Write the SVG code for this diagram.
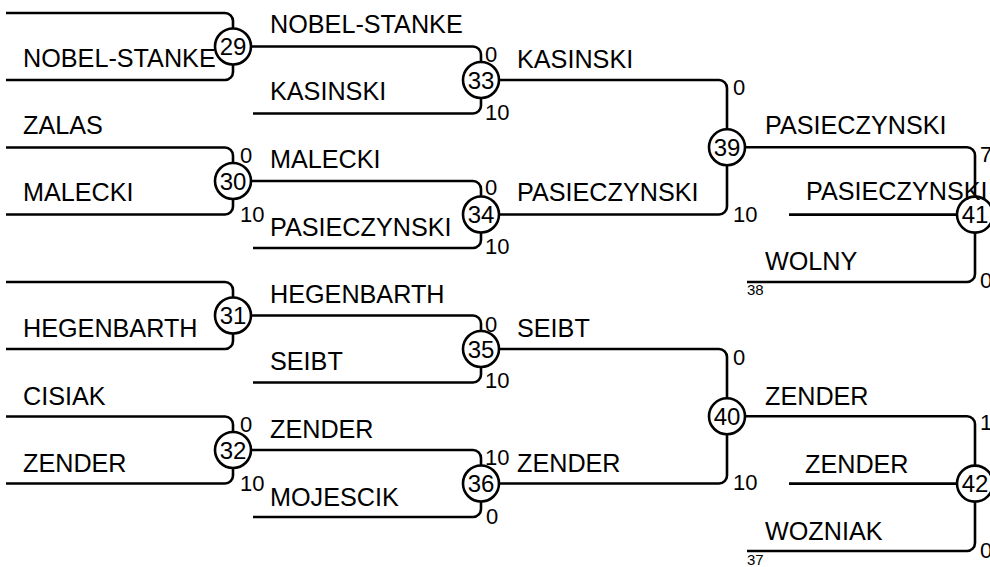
<svg xmlns="http://www.w3.org/2000/svg" width="990" height="567" viewBox="0 0 990 567">
<style>
.c{fill:none;stroke:#000;stroke-width:2.6;stroke-linejoin:round}
.n circle{fill:#fff;stroke:#000;stroke-width:2.6}
.n text{font-family:"Liberation Sans",Arial,sans-serif;font-size:24px;text-anchor:middle;fill:#000}
.p{font-family:"Liberation Sans",Arial,sans-serif;font-size:25.2px;fill:#000}
.s{font-family:"Liberation Sans",Arial,sans-serif;font-size:22px;fill:#000}
.t{font-family:"Liberation Sans",Arial,sans-serif;font-size:15px;fill:#000}
</style>
<rect width="990" height="567" fill="#fff"/>
<g id="connectors" class="c">
<path d="M6,13 H225 A8,8 0 0 1 233,21 V28.5"/>
<path d="M6,80 H225 A8,8 0 0 0 233,72 V64.5"/>
<path d="M6,147.5 H225 A8,8 0 0 1 233,155.5 V163"/>
<path d="M6,214.5 H225 A8,8 0 0 0 233,206.5 V199"/>
<path d="M6,282 H225 A8,8 0 0 1 233,290 V297.5"/>
<path d="M6,349 H225 A8,8 0 0 0 233,341 V333.5"/>
<path d="M6,416.5 H225 A8,8 0 0 1 233,424.5 V432"/>
<path d="M6,483.5 H225 A8,8 0 0 0 233,475.5 V468"/>
<path d="M251,46.5 H473 A8,8 0 0 1 481,54.5 V62"/>
<path d="M253,113.5 H473 A8,8 0 0 0 481,105.5 V98"/>
<path d="M251,181 H473 A8,8 0 0 1 481,189 V196.5"/>
<path d="M253,248 H473 A8,8 0 0 0 481,240 V232.5"/>
<path d="M251,315.5 H473 A8,8 0 0 1 481,323.5 V331"/>
<path d="M253,382.5 H473 A8,8 0 0 0 481,374.5 V367"/>
<path d="M251,450 H473 A8,8 0 0 1 481,458 V465.5"/>
<path d="M253,517 H473 A8,8 0 0 0 481,509 V501.5"/>
<path d="M499,80 H719 A8,8 0 0 1 727,88 V129.3"/>
<path d="M499,214.5 H719 A8,8 0 0 0 727,206.5 V165.3"/>
<path d="M499,349 H719 A8,8 0 0 1 727,357 V398.3"/>
<path d="M499,483.5 H719 A8,8 0 0 0 727,475.5 V434.3"/>
<path d="M745,147.3 H967 A8,8 0 0 1 975,155.3 V196.6"/>
<path d="M789,214.6 H957"/>
<path d="M747,282 H967 A8,8 0 0 0 975,274 V232.6"/>
<path d="M745,416.3 H967 A8,8 0 0 1 975,424.3 V465.6"/>
<path d="M789,483.6 H957"/>
<path d="M747,551 H967 A8,8 0 0 0 975,543 V501.6"/>
</g>
<g id="m29" class="n"><circle cx="233" cy="46.5" r="18"/><text x="233" y="55">29</text></g>
<g id="m30" class="n"><circle cx="233" cy="181" r="18"/><text x="233" y="189.5">30</text></g>
<g id="m31" class="n"><circle cx="233" cy="315.5" r="18"/><text x="233" y="324">31</text></g>
<g id="m32" class="n"><circle cx="233" cy="450" r="18"/><text x="233" y="458.5">32</text></g>
<g id="m33" class="n"><circle cx="481" cy="80" r="18"/><text x="481" y="88.5">33</text></g>
<g id="m34" class="n"><circle cx="481" cy="214.5" r="18"/><text x="481" y="223">34</text></g>
<g id="m35" class="n"><circle cx="481" cy="349" r="18"/><text x="481" y="357.5">35</text></g>
<g id="m36" class="n"><circle cx="481" cy="483.5" r="18"/><text x="481" y="492">36</text></g>
<g id="m39" class="n"><circle cx="727" cy="147.3" r="18"/><text x="727" y="155.8">39</text></g>
<g id="m40" class="n"><circle cx="727" cy="416.3" r="18"/><text x="727" y="424.8">40</text></g>
<g id="m41" class="n"><circle cx="975" cy="214.6" r="18"/><text x="975" y="223.1">41</text></g>
<g id="m42" class="n"><circle cx="975" cy="483.6" r="18"/><text x="975" y="492.1">42</text></g>
<g id="players" class="p">
<text x="23" y="67">NOBEL-STANKE</text>
<text x="23" y="134">ZALAS</text>
<text x="23" y="201">MALECKI</text>
<text x="23" y="337">HEGENBARTH</text>
<text x="23" y="405">CISIAK</text>
<text x="23" y="472">ZENDER</text>
<text x="270" y="33">NOBEL-STANKE</text>
<text x="270" y="100">KASINSKI</text>
<text x="270" y="168">MALECKI</text>
<text x="270" y="236">PASIECZYNSKI</text>
<text x="270" y="303">HEGENBARTH</text>
<text x="270" y="370">SEIBT</text>
<text x="270" y="438">ZENDER</text>
<text x="270" y="506">MOJESCIK</text>
<text x="517" y="68">KASINSKI</text>
<text x="517" y="201">PASIECZYNSKI</text>
<text x="517" y="337">SEIBT</text>
<text x="517" y="472">ZENDER</text>
<text x="765" y="134">PASIECZYNSKI</text>
<text x="806" y="200">PASIECZYNSKI</text>
<text x="765" y="270">WOLNY</text>
<text x="765" y="405">ZENDER</text>
<text x="805" y="473">ZENDER</text>
<text x="765" y="540">WOZNIAK</text>
</g>
<g id="scores" class="s">
<text x="240" y="163">0</text>
<text x="240" y="222">10</text>
<text x="240" y="432">0</text>
<text x="240" y="491">10</text>
<text x="485" y="62">0</text>
<text x="485" y="120">10</text>
<text x="485" y="195">0</text>
<text x="485" y="254">10</text>
<text x="485" y="332">0</text>
<text x="485" y="388">10</text>
<text x="485" y="465">10</text>
<text x="486" y="524">0</text>
<text x="733" y="95">0</text>
<text x="733" y="222">10</text>
<text x="733" y="365">0</text>
<text x="733" y="490">10</text>
<text x="980" y="162">7</text>
<text x="980" y="288">0</text>
<text x="980" y="430">1</text>
<text x="980" y="558">0</text>
</g>
<g id="seeds" class="t">
<text x="747" y="295">38</text>
<text x="747" y="565">37</text>
</g>
</svg>
